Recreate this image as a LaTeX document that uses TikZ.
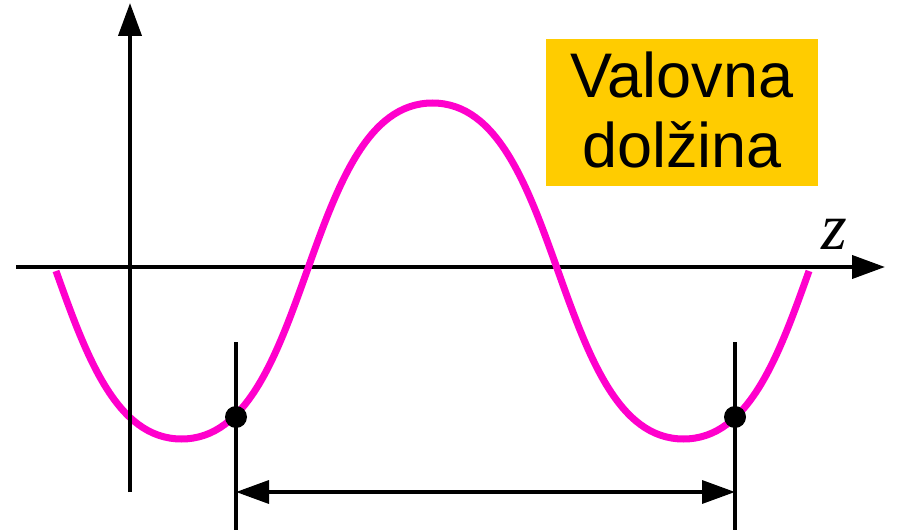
\documentclass[tikz,border=0pt]{standalone}
\usepackage{fontspec}
\setmainfont{Liberation Sans}
\newfontfamily\zfont{Liberation Serif}
\usetikzlibrary{arrows.meta}
\definecolor{wavecol}{RGB}{255,0,204}
\definecolor{boxcol}{RGB}{255,204,0}
\tikzset{
  axisline/.style={line width=4pt, black},
  dimline/.style={line width=3.5pt, black},
  wave/.style={line width=7pt, wavecol},
  bigtip/.tip={Triangle[length=33pt,width=23pt]},
  dot/.style={circle, fill=black, minimum size=22pt, inner sep=0pt},
  labelbox/.style={rectangle, fill=boxcol, minimum width=272pt, minimum height=147pt, inner sep=0pt},
  labeltext/.style={anchor=base, inner sep=0pt, font=\fontsize{63}{70}\selectfont},
}
\begin{document}
\begin{tikzpicture}[x=1pt,y=-1pt]
\useasboundingbox (0,0) rectangle (898,532);
% axes
\coordinate (xs) at (16,267);
\coordinate (xe) at (885,267);
\coordinate (ys) at (130,492);
\coordinate (ye) at (130,3);
\draw[axisline,-bigtip] (xs) -- (xe);
% wave
\draw[wave] (56,271) .. controls (86,355) and (116,439) .. (181.5,439)
  .. controls (312.5,439) and (301.5,103) .. (432.5,103)
  .. controls (563.5,103) and (552.5,439) .. (683.5,439)
  .. controls (749,439) and (779,355) .. (809,271);
\draw[axisline,-bigtip] (ys) -- (ye);
% dimension lines
\coordinate (l1t) at (236,342);
\coordinate (l1b) at (236,530);
\coordinate (l2t) at (735,342);
\coordinate (l2b) at (735,530);
\draw[dimline] (l1t) -- (l1b);
\draw[dimline] (l2t) -- (l2b);
\coordinate (a1) at (236,492);
\coordinate (a2) at (735,492);
\draw[dimline,bigtip-bigtip] (a1) -- (a2);
\node[dot] (d1) at (236,417) {};
\node[dot] (d2) at (735,417) {};
% label
\node[labelbox] (box) at (682,112.5) {};
\node[labeltext] (t1) at (682,98) {Valovna};
\node[labeltext] (t2) at (682,168) {dolžina};
\node[anchor=base west, inner sep=0pt, font=\zfont\itshape\fontsize{66}{70}\selectfont] (zl) at (821,250) {z};
\end{tikzpicture}
\end{document}
